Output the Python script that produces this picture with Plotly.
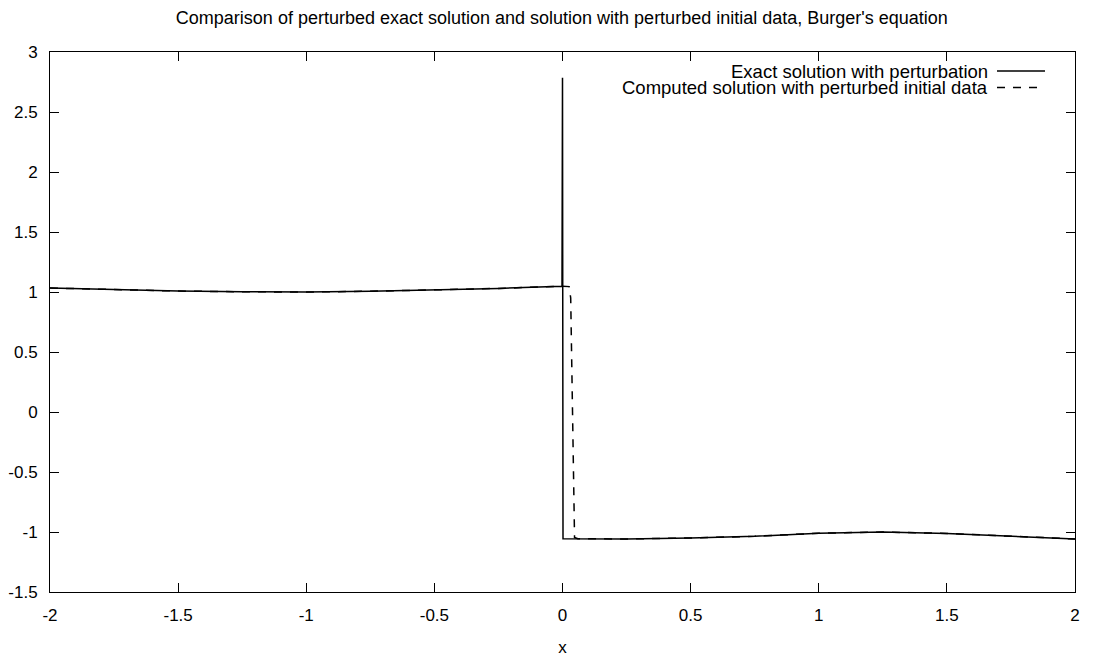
import plotly.graph_objects as go

# Exact solution with perturbation (solid)
exact_x = [-2.0, -1.75, -1.5, -1.25, -1.0, -0.75, -0.5, -0.25, -0.002, 0.0, 0.002,
           0.25, 0.5, 0.75, 1.0, 1.25, 1.5, 1.75, 2.0]
exact_y = [1.033, 1.018, 1.008, 1.002, 1.0, 1.006, 1.016, 1.03, 1.048, 2.785, -1.056,
           -1.058, -1.05, -1.036, -1.01, -1.0, -1.012, -1.032, -1.058]

# Computed solution with perturbed initial data (dashed)
comp_x = [-2.0, -1.75, -1.5, -1.25, -1.0, -0.75, -0.5, -0.25, 0.0, 0.026, 0.032,
          0.035, 0.038, 0.041, 0.044, 0.047, 0.06, 0.25, 0.5, 0.75, 1.0, 1.25,
          1.5, 1.75, 2.0]
comp_y = [1.033, 1.018, 1.008, 1.002, 1.0, 1.006, 1.016, 1.03, 1.048, 1.045, 0.95,
          0.5, 0.0, -0.5, -0.9, -1.045, -1.056, -1.058, -1.05, -1.036, -1.01, -1.0,
          -1.012, -1.032, -1.058]

x_ticks = [-2, -1.5, -1, -0.5, 0, 0.5, 1, 1.5, 2]
x_tick_labels = ["-2", "-1.5", "-1", "-0.5", "0", "0.5", "1", "1.5", "2"]
y_ticks = [-1.5, -1, -0.5, 0, 0.5, 1, 1.5, 2, 2.5, 3]
y_tick_labels = ["-1.5", "-1", "-0.5", "0", "0.5", "1", "1.5", "2", "2.5", "3"]

series_names = ["Exact solution with perturbation",
                "Computed solution with perturbed initial data"]

FONT = "Liberation Sans, Arial, sans-serif"
W, H = 1093, 658
L, R, T, B = 50, 18, 52, 66

fig = go.Figure()
fig.add_trace(go.Scatter(x=comp_x, y=comp_y, mode="lines", name=series_names[1],
                         line=dict(color="black", width=1.5, dash="8px,8px"),
                         showlegend=False))
fig.add_trace(go.Scatter(x=exact_x, y=exact_y, mode="lines", name=series_names[0],
                         line=dict(color="black", width=1.5), showlegend=False))

pw = W - L - R
ph = H - T - B


def px2paper_x(px):
    return (px - L) / pw


def px2paper_y(py):
    return (H - B - py) / ph


# Custom legend: text on left, sample on right
legend_rows = [(71.0, "solid"), (87.5, "8px,8px")]
for (py, dash), name in zip(legend_rows, series_names):
    fig.add_annotation(x=px2paper_x(989), y=px2paper_y(py), xref="paper", yref="paper",
                       text=name, showarrow=False, xanchor="right", yanchor="middle",
                       borderpad=0,
                       font=dict(family=FONT, size=18.5, color="black"))
    fig.add_shape(type="line", xref="paper", yref="paper",
                  x0=px2paper_x(997), x1=px2paper_x(1045),
                  y0=px2paper_y(py), y1=px2paper_y(py),
                  line=dict(color="black", width=1.5, dash=dash))

axis_common = dict(showgrid=False, zeroline=False, showline=True, linecolor="black",
                   linewidth=1, mirror="ticks", ticks="inside", ticklen=9,
                   tickcolor="black", tickwidth=1,
                   tickfont=dict(family=FONT, size=17, color="black"))

fig.update_xaxes(range=[-2, 2], tickvals=x_ticks, ticktext=x_tick_labels,
                 title=dict(text="x", font=dict(family=FONT, size=17, color="black"),
                            standoff=16),
                 ticklabelstandoff=8, **axis_common)
fig.update_yaxes(range=[-1.5, 3], tickvals=y_ticks, ticktext=y_tick_labels,
                 ticklabelstandoff=8, **axis_common)

fig.update_layout(
    width=W, height=H,
    margin=dict(l=L, r=R, t=T, b=B, autoexpand=False),
    paper_bgcolor="white", plot_bgcolor="white",
    title=dict(text="Comparison of perturbed exact solution and solution with perturbed initial data, Burger's equation",
               x=0.514, xanchor="center", y=1 - 18 / H, yanchor="middle",
               font=dict(family=FONT, size=18, color="black")),
    font=dict(family=FONT, color="black"),
    showlegend=False,
)

fig.write_html("out.html")
